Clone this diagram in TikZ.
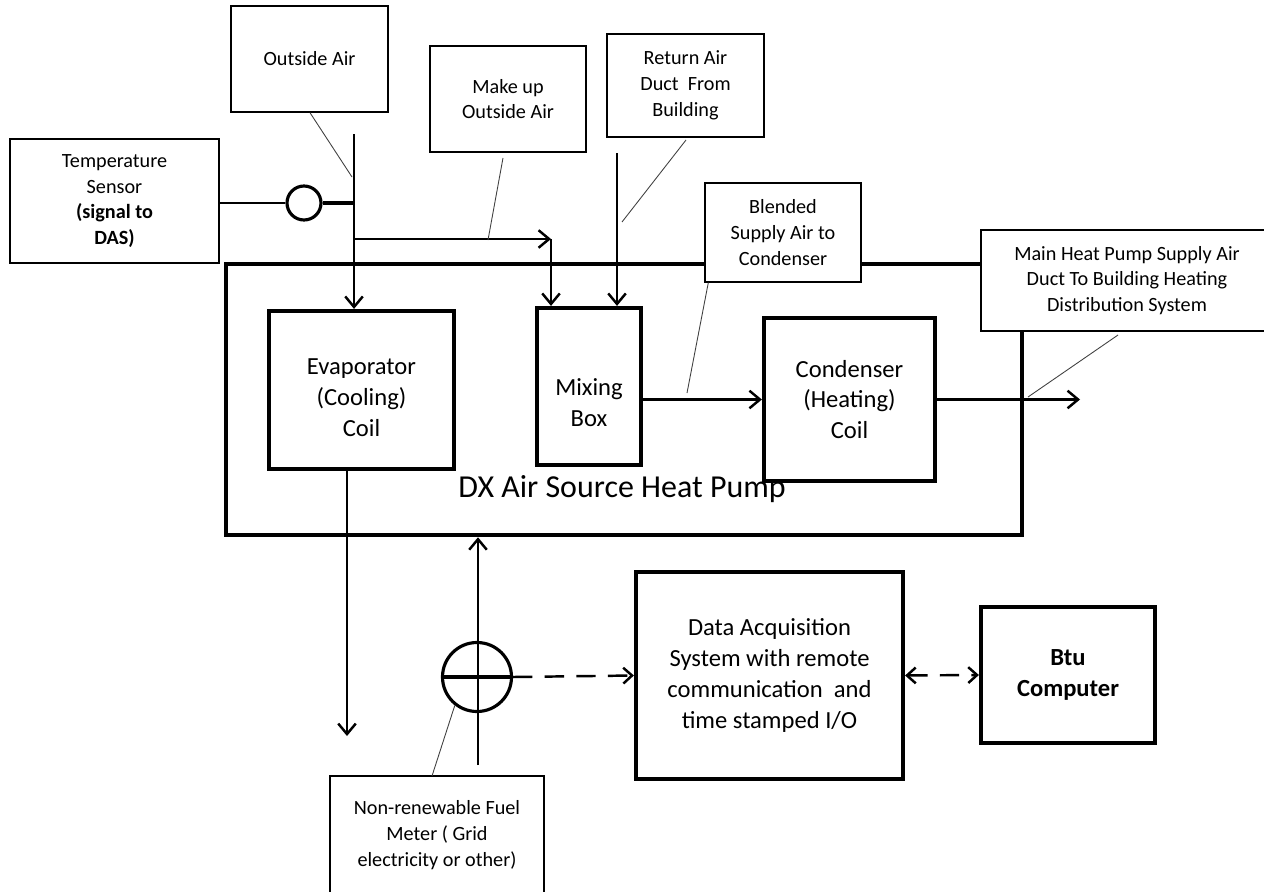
\documentclass[tikz,border=0pt]{standalone}
\usepackage{fontspec}
\setmainfont{Carlito}
\usetikzlibrary{arrows.meta}
\begin{document}
\begin{tikzpicture}[x=0.02cm,y=-0.02cm,
  sz/.style 2 args={minimum width=#1*0.02cm, minimum height=#2*0.02cm},
  thinbox/.style={draw, line width=0.8pt, align=center, inner sep=0pt, font=\fontsize{11.5}{14.7}\selectfont},
  thickbox/.style={draw, line width=2.4pt, align=center, inner sep=0pt, font=\fontsize{14}{17.6}\selectfont},
  bigtext/.style={font=\fontsize{14}{17.6}\selectfont, align=center, inner sep=0pt},
  flow/.style={line width=1.4pt, -{Straight Barb[length=6pt,width=10pt,line width=1.4pt]}},
  dasharrow/.style={line width=1.4pt, dash pattern=on 11pt off 7pt, -{Straight Barb[length=5pt,width=9pt,line width=1.4pt]}},
  leader/.style={line width=0.5pt, draw=black!75},
  meter/.style={draw, line width=1.8pt, circle, inner sep=0pt}
]
\useasboundingbox (0,0) rectangle (1264,892);

% heat pump enclosure
\node[draw, line width=2.6pt, sz={796}{271}, inner sep=0pt] (dx) at (624,399.5) {};
\node[bigtext, font=\fontsize{18.2}{20}\selectfont] (dxtxt) at (622,489) {DX Air Source Heat Pump};

% label boxes
\node[thinbox, sz={157}{106}] (outside) at (309.5,59) {Outside Air};
\node[thinbox, sz={156}{106}] (makeup) at (508,99) {Make up\\Outside Air};
\node[thinbox, sz={157}{103}] (ret) at (685.5,85.5) {Return Air\\Duct\ \ From\\Building};
\node[thinbox, sz={209}{124}] (temp) at (114.5,201) {Temperature\\Sensor\\\textbf{(signal to}\\\textbf{DAS)}};
\node[thinbox, sz={156}{99}, fill=white] (blend) at (783,232.5) {Blended\\Supply Air to\\Condenser};
\node[thinbox, sz={292}{101}, fill=white] (mainhp) at (1127,280.5) {Main Heat Pump Supply Air\\Duct To Building Heating\\Distribution System};
\node[thinbox, sz={214}{118}] (fuel) at (437,835) {Non-renewable Fuel\\Meter ( Grid\\electricity or other)};

% components
\node[thickbox, sz={185}{158}] (evap) at (361.5,390) {};
\node[bigtext] (evaptxt) at (361.5,398) {Evaporator\\(Cooling)\\Coil};
\node[thickbox, sz={104}{157}] (mix) at (589,386.5) {};
\node[bigtext] (mixtxt) at (589,403) {Mixing\\Box};
\node[thickbox, sz={171}{163}] (cond) at (849.5,399.5) {Condenser\\(Heating)\\Coil};
\node[thickbox, sz={267}{207}] (das) at (769.5,675.5) {Data Acquisition\\System with remote\\communication\ \ and\\time stamped I/O};
\node[thickbox, sz={174}{136}, font=\fontsize{14}{17.6}\selectfont\bfseries] (btu) at (1068,675) {Btu\\Computer};

% meters
\node[meter, minimum size=34*0.02cm] (ts) at (304,203) {};
\node[meter, minimum size=69*0.02cm] (fm) at (477,677) {};

% coordinates
\coordinate (oatop) at (354,134);
\coordinate (mkjoin) at (354,239);
\coordinate (mkcorner) at (551,239);
\coordinate (rettop) at (617,153);
\coordinate (out) at (1080,399.5);
\coordinate (evapend) at (347,736);
\coordinate (fmbottom) at (478,765);
\coordinate (l1) at (352,177);
\coordinate (l2a) at (503,158);
\coordinate (l2b) at (488,240);
\coordinate (l3a) at (686,140);
\coordinate (l3b) at (622,222);
\coordinate (l4) at (687,393);
\coordinate (l5a) at (1118,335);
\coordinate (l5b) at (1028,397);
\coordinate (l6) at (432,776);

% air flows
\draw[flow] (oatop) -- (oatop |- evap.north);
\draw[flow] (mkjoin) -- (mkcorner);
\draw[flow] (mkcorner) -- (mkcorner |- mix.north);
\draw[flow] (rettop) -- (rettop |- mix.north);
\draw[flow] (mix.east |- cond.west) -- (cond.west);
\draw[flow] (cond.east) -- (out);
\draw[flow] (evapend |- evap.south) -- (evapend);
\draw[flow] (fmbottom) -- (fmbottom |- dx.south);

% temperature sensor
\draw[line width=0.8pt] (temp.east |- ts.west) -- (ts.west);
\draw[line width=2.4pt] (ts.east) -- (ts.east -| oatop);

% fuel meter
\draw[line width=1.8pt] (fm.west) -- (fm.east);
\draw[dasharrow] (fm.east) -- (das.west);
\draw[dasharrow, {Straight Barb[length=5pt,width=9pt,line width=1.4pt]}-{Straight Barb[length=5pt,width=9pt,line width=1.4pt]}] (das.east) -- (btu.west);

% leaders
\draw[leader] (outside.south) ++(0.5,0) -- (l1);
\draw[leader] (l2a) -- (l2b);
\draw[leader] (l3a) -- (l3b);
\draw[leader] (blend.south west) ++(4,0) -- (l4);
\draw[leader] (l5a) -- (l5b);
\draw[leader] (fm.-128) -- (l6);
\end{tikzpicture}
\end{document}
